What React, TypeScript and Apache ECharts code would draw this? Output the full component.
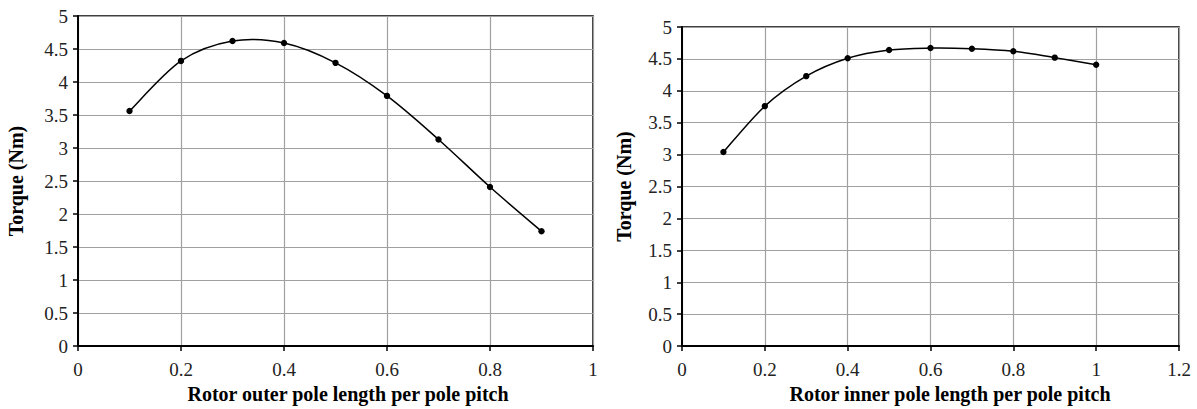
import React, { useEffect, useRef } from "react";
import * as echarts from "echarts";

const outerX = [0.1, 0.2, 0.3, 0.4, 0.5, 0.6, 0.7, 0.8, 0.9];
const outerTorque = [3.56, 4.32, 4.62, 4.59, 4.29, 3.79, 3.13, 2.41, 1.74];
const innerX = [0.1, 0.2, 0.3, 0.4, 0.5, 0.6, 0.7, 0.8, 0.9, 1.0];
const innerTorque = [3.04, 3.76, 4.23, 4.51, 4.64, 4.67, 4.66, 4.62, 4.52, 4.41];
const leftXName = "Rotor outer pole length per pole pitch";
const rightXName = "Rotor inner pole length per pole pitch";
const yName = "Torque (Nm)";

const FONT = "Liberation Serif";

export default function App() {
  const ref = useRef<HTMLDivElement>(null);
  useEffect(() => {
    document.body.style.margin = "0";
    const chart = echarts.init(ref.current!, null, { renderer: "svg" });
    const gridLine = { show: true, lineStyle: { color: "#a0a0a0", width: 1.2 } };
    const axisLine = { show: true, lineStyle: { color: "#000", width: 2 } };
    const axisTick = { show: true, length: 5, lineStyle: { color: "#000", width: 1.5 } };
    const label = { color: "#222", fontFamily: FONT, fontSize: 19 };
    const nameStyle = { color: "#000", fontFamily: FONT, fontSize: 20, fontWeight: "bold" as const };
    const mkX = (idx: number, max: number, name: string, shift: number) => ({
      type: "value",
      gridIndex: idx,
      min: 0,
      max,
      interval: 0.2,
      name,
      nameLocation: "middle",
      nameGap: 36,
      nameTextStyle: { ...nameStyle, padding: [0, 0, 0, shift] },
      axisLine,
      axisTick,
      axisLabel: { ...label, margin: 14 },
      splitLine: gridLine,
    });
    const mkY = (idx: number, gap: number) => ({
      type: "value",
      gridIndex: idx,
      min: 0,
      max: 5,
      interval: 0.5,
      name: yName,
      nameLocation: "middle",
      nameGap: gap,
      nameRotate: 90,
      nameTextStyle: nameStyle,
      axisLine,
      axisTick,
      axisLabel: { ...label, margin: 10 },
      splitLine: gridLine,
    });
    const series = (idx: number, xs: number[], ys: number[]) => ({
      type: "custom",
      xAxisIndex: idx,
      yAxisIndex: idx,
      data: xs.map((x, i) => [x, ys[i]]),
      renderItem: (params: any, api: any) => {
        const i = params.dataIndex;
        const n = xs.length;
        const pts = xs.map((x, k) => api.coord([x, ys[k]]));
        const P = (k: number) => pts[Math.max(0, Math.min(n - 1, k))];
        const children: any[] = [];
        if (i < n - 1) {
          const p0 = P(i - 1), p1 = P(i), p2 = P(i + 1), p3 = P(i + 2);
          const t = 1 / 6;
          children.push({
            type: "bezierCurve",
            shape: {
              x1: p1[0], y1: p1[1],
              cpx1: p1[0] + (p2[0] - p0[0]) * t, cpy1: p1[1] + (p2[1] - p0[1]) * t,
              cpx2: p2[0] - (p3[0] - p1[0]) * t, cpy2: p2[1] - (p3[1] - p1[1]) * t,
              x2: p2[0], y2: p2[1],
            },
            style: { stroke: "#000", lineWidth: 1.5, fill: null },
          });
        }
        children.push({
          type: "circle",
          shape: { cx: pts[i][0], cy: pts[i][1], r: 3.2 },
          style: { fill: "#000" },
          z2: 10,
        });
        return { type: "group", children };
      },
    });
    chart.setOption({
      animation: false,
      backgroundColor: "#fff",
      grid: [
        { left: 78, right: 604, top: 16, bottom: 58, show: true, borderColor: "#000", borderWidth: 1.5 },
        { left: 682, right: 18, top: 27, bottom: 60, show: true, borderColor: "#000", borderWidth: 1.5 },
      ],
      xAxis: [mkX(0, 1, leftXName, 25), mkX(1, 1.2, rightXName, 39)],
      yAxis: [mkY(0, 52), mkY(1, 48)],
      series: [series(0, outerX, outerTorque), series(1, innerX, innerTorque)],
    });
    return () => chart.dispose();
  }, []);
  return <div ref={ref} style={{ width: 1197, height: 409 }} />;
}
